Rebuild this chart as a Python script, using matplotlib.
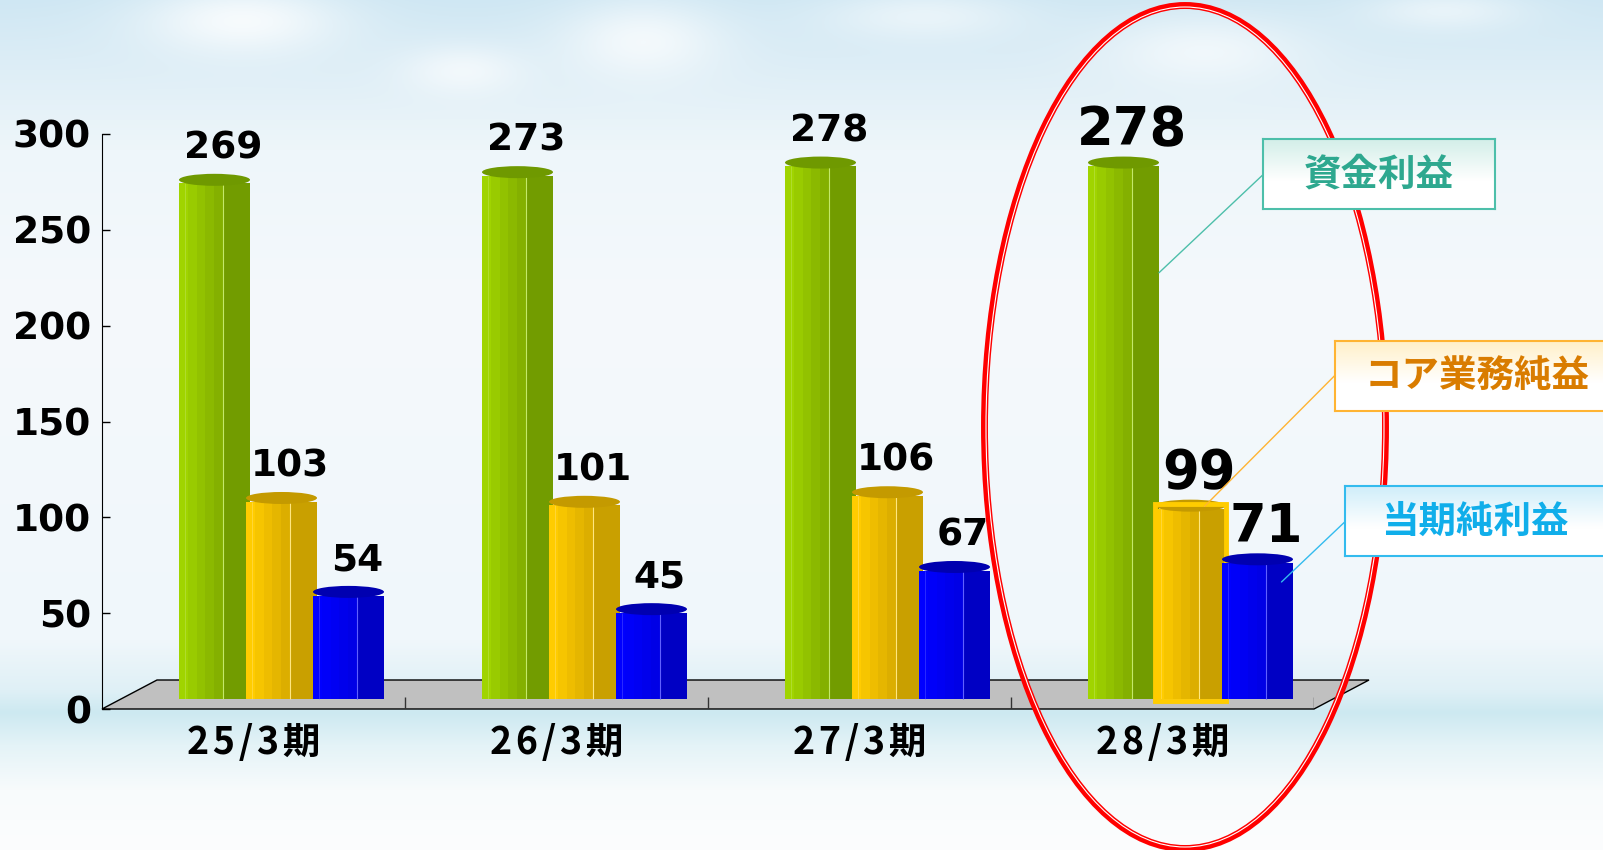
import numpy as np
import matplotlib
matplotlib.use("Agg")
import matplotlib.pyplot as plt
from matplotlib.patches import Ellipse, Polygon, ConnectionPatch
from matplotlib.colors import to_rgb

plt.rcParams["font.family"] = ["DejaVu Sans", "Noto Sans CJK JP"]

periods = ["25/3期", "26/3期", "27/3期", "28/3期"]
names = ["資金利益", "コア業務純益", "当期純利益"]
shikin = [269, 273, 278, 278]
core = [103, 101, 106, 99]
net = [54, 45, 67, 71]
values = [shikin, core, net]

W, H = 1603, 850
fig = plt.figure(figsize=(W / 100, H / 100), dpi=100)

# sky background: vertical gradient plus a few soft cloud patches
bg = fig.add_axes([0, 0, 1, 1], zorder=-10)
stops_y = [0, 60, 150, 300, 640, 690, 712, 745, 790, 850]
stops_c = ["#cfe7f3", "#dcedf6", "#eef6fa", "#f5f9fc", "#f0f7fb",
           "#dff0f6", "#cde9f1", "#e4f3f7", "#f8fbfc", "#fcfdfe"]
rows = np.arange(H)
cols = np.array([to_rgb(c) for c in stops_c])
grad = np.stack([np.interp(rows, stops_y, cols[:, k]) for k in range(3)], axis=-1)
img = np.repeat(grad[:, None, :], W // 4, axis=1)
yy, xx = np.mgrid[0:H, 0:W // 4]
for cx, cy, rx, ry, a in [(60, 20, 25, 35, 0.8), (160, 40, 20, 40, 0.7),
                          (115, 70, 15, 25, 0.6), (230, 15, 25, 25, 0.5),
                          (300, 50, 25, 35, 0.6), (360, 10, 20, 20, 0.5)]:
    m = a * np.exp(-(((xx - cx) / rx) ** 2 + ((yy - cy) / ry) ** 2))
    img = img + (1 - img) * m[..., None]
bg.imshow(img, aspect="auto", extent=[0, 1, 0, 1])
bg.axis("off")

# main axes (front plane)
L, R, T, B = 102, 1314, 134, 709
ax = fig.add_axes([L / W, 1 - B / H, (R - L) / W, (B - T) / H])
ax.set_xlim(0, 4)
ax.set_ylim(0, 300)
ax.patch.set_visible(False)
for s in ["top", "right", "bottom"]:
    ax.spines[s].set_visible(False)
ax.set_yticks(range(0, 301, 50))
ax.tick_params(axis="y", direction="in", length=6, width=1, pad=8, labelsize=27)
for t in ax.get_yticklabels():
    t.set_fontweight("bold")
ax.set_xticks([0.5, 1.5, 2.5, 3.5])
ax.set_xticklabels(["\u200a".join(p) for p in periods], fontsize=27, fontweight="bold",
                   family=["Noto Sans CJK JP", "DejaVu Sans"])
ax.tick_params(axis="x", length=0, pad=10)

sx = (R - L) / 4
sy = (B - T) / 300
dx, dy = 55 / sx, 29 / sy

floor = Polygon([(0, 0), (4, 0), (4 + dx, dy), (dx, dy)], closed=True,
                fc="#c0c0c0", ec="black", lw=1, zorder=1, clip_on=False)
ax.add_patch(floor)
ax.vlines([1, 2, 3, 4], 0, 12 / sy, color="#333333", lw=1, zorder=1.5)

# bars
pitch, bw, face = 67 / sx, 71 / sx, 44 / sx
shift, base = 28 / sx, 10 / sy
cap_h = 12 / sy
styles = [
    dict(front=("#a0d400", "#84b000"), side="#729c00", cap="#6f9900", hl="#c4e86a"),
    dict(front=("#ffcc00", "#dcae00"), side="#c9a000", cap="#c49a00", hl="#ffe680"),
    dict(front=("#0000ff", "#0000e6"), side="#0000c4", cap="#0000b0", hl="#6060ff"),
]
n = 5
xs = np.arange(4)
for j, (vals, st) in enumerate(zip(values, styles)):
    z = 3 + j
    centers = xs + 0.5 + shift + (j - 1) * pitch
    lefts = centers - bw / 2
    c0, c1 = np.array(to_rgb(st["front"][0])), np.array(to_rgb(st["front"][1]))
    for k in range(n):
        c = c0 + (c1 - c0) * k / (n - 1)
        ax.bar(lefts + k * face / n, vals, width=face / n + 0.002, bottom=base,
               align="edge", color=c, lw=0, zorder=z)
    ax.bar(lefts + face, vals, width=bw - face, bottom=base, align="edge",
           color=st["side"], lw=0, zorder=z)
    ax.vlines(lefts + face, base, base + np.array(vals), color=st["hl"], lw=0.8, zorder=z)
    ax.vlines(lefts + 0.08 * bw, base, base + np.array(vals), color=st["hl"], lw=0.5,
              alpha=0.6, zorder=z)
    for xc, v in zip(centers, vals):
        ax.add_patch(Ellipse((xc, base + v + cap_h * 0.3), bw, cap_h,
                             fc=st["cap"], ec="none", zorder=z))
    if j == 1:
        ax.bar(lefts[3], vals[3] + cap_h * 0.6, width=bw, bottom=base - 0.8,
               align="edge", fill=False, ec="#ffcc00", lw=3.5, zorder=z)
    for i, (xc, v) in enumerate(zip(centers, vals)):
        big = i == 3
        ax.annotate(str(v), (xc, base + v), xytext=(6, 15 if big else 18),
                    textcoords="offset points", ha="center", va="baseline",
                    fontsize=38 if big else 27, fontweight="bold", zorder=10)

# red highlight ellipse around last period
fig.add_artist(Ellipse((1185 / W, 1 - 427 / H), 401 / W, 843 / H,
                       transform=fig.transFigure, fill=False, ec="#ff0000", lw=5, zorder=1))
fig.add_artist(Ellipse((1185 / W, 1 - 427 / H), 398 / W, 840 / H,
                       transform=fig.transFigure, fill=False, ec="white", lw=0.8, zorder=1))


def callout(label, box, tx, edge, top, color):
    x0, y0, x1, y1 = box
    bax = fig.add_axes([x0 / W, 1 - y1 / H, (x1 - x0) / W, (y1 - y0) / H], zorder=5)
    g = np.linspace(0, 1, 60)
    tc = np.array(to_rgb(top))
    img = tc + (1 - tc) * np.clip(g / 0.6, 0, 1)[:, None]
    bax.imshow(img[:, None, :], aspect="auto", extent=[0, 1, 0, 1])
    bax.set_xticks([])
    bax.set_yticks([])
    for s in bax.spines.values():
        s.set_edgecolor(edge)
        s.set_linewidth(1.5)
    bax.text((tx - x0) / (x1 - x0), 0.5, label, transform=bax.transAxes,
             ha="center", va="center", fontsize=27, fontweight="bold", color=color,
             family=["Noto Sans CJK JP", "DejaVu Sans"])
    return bax


b1 = callout(names[0], (1263, 139, 1495, 209), 1379, "#4dbfaa", "#d2eee8", "#2ea88f")
b2 = callout(names[1], (1335, 341, 1625, 411), 1477, "#ffb433", "#fff0c8", "#d97c00")
b3 = callout(names[2], (1345, 486, 1625, 556), 1475, "#33bbee", "#d0eefa", "#10aeea")

gl = 3 + 0.5 + shift
leaders = [
    ((gl - pitch + bw / 2, base + 0.8 * shikin[3]), b1, 0.49, "#4dbfaa"),
    ((gl + 14 / sx, base + core[3] + 1.5), b2, 0.51, "#ffb433"),
    ((gl + pitch + 24 / sx, base + 0.86 * net[3]), b3, 0.49, "#33bbee"),
]
for xyA, bax, fy, c in leaders:
    fig.add_artist(ConnectionPatch(xyA=xyA, coordsA=ax.transData, xyB=(0, fy),
                                   coordsB=bax.transAxes, color=c, lw=1, zorder=2))

fig.savefig("out.png", dpi=100)
